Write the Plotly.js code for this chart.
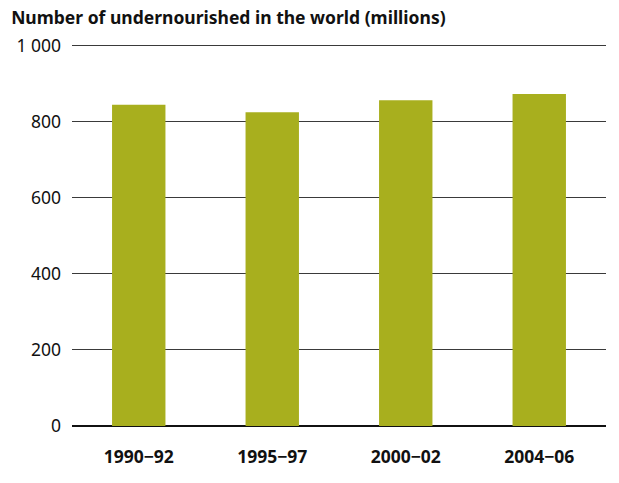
<!DOCTYPE html>
<html><head><meta charset="utf-8">
<script src="https://cdn.plot.ly/plotly-3.0.1.min.js"></script>
<style>html,body{margin:0;padding:0;background:#fff}#chart{width:619px;height:483px}</style>
</head><body><div id="chart"></div>
<script>
const categories = ["1990−92", "1995−97", "2000−02", "2004−06"];
const undernourished = [845, 825, 857, 873];
const yTicks = [0, 200, 400, 600, 800, 1000];
const yTickLabels = ["0", "200", "400", "600", "800", "1 000"];

const font = "Noto Sans, Open Sans, sans-serif";
Plotly.newPlot("chart", [{
  type: "bar",
  x: categories,
  y: undernourished,
  marker: {color: "#A8AF1E"},
  hoverinfo: "x+y"
}], {
  width: 619, height: 483,
  margin: {l: 72, r: 13, t: 42, b: 57},
  paper_bgcolor: "#fff", plot_bgcolor: "#fff",
  bargap: 0.6,
  showlegend: false,
  title: {text: "<b>Number of undernourished in the world (millions)</b>", x: 0.018, xanchor: "left", y: 0.962, yanchor: "middle", font: {family: font, size: 17.5, color: "#111"}},
  xaxis: {showgrid: false, showline: false, ticks: "", ticklabelstandoff: 18, tickfont: {family: font, size: 17.5, color: "#111", weight: "bold"}, fixedrange: true},
  yaxis: {range: [0, 1010], tickvals: yTicks, ticktext: yTickLabels, showgrid: true, gridcolor: "#3a3a3a", gridwidth: 1, zeroline: true, zerolinecolor: "#111", zerolinewidth: 1.5, ticks: "", ticklabelstandoff: 10, tickfont: {family: font, size: 17.5, color: "#111"}, layer: "below traces", fixedrange: true}
}, {displayModeBar: false, staticPlot: true});
</script></body></html>
